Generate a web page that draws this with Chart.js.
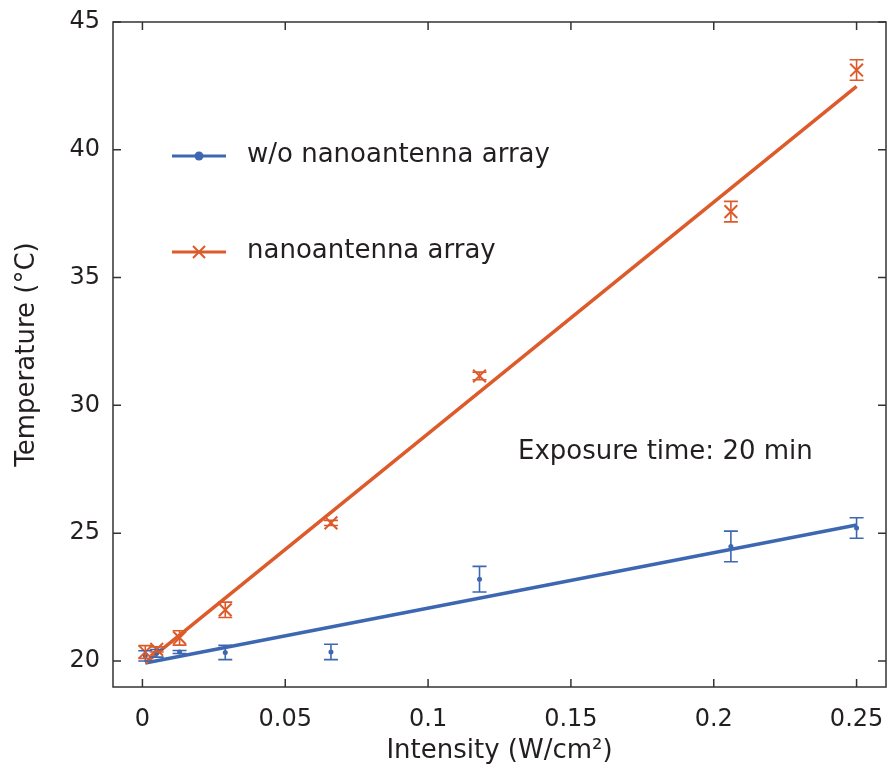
<!DOCTYPE html>
<html>
<head>
<meta charset="utf-8">
<title>Temperature vs intensity</title>
<script src="https://cdn.jsdelivr.net/npm/chart.js@4.4.1/dist/chart.umd.min.js"></script>
<style>
  html, body { margin: 0; padding: 0; background: #ffffff; }
  #chart { display: block; }
</style>
</head>
<body>
<canvas id="chart" width="888" height="782"></canvas>
<script>
// measured points (x = intensity in W/cm2)
const intensity = [0.001, 0.005, 0.013, 0.029, 0.066, 0.118, 0.206, 0.25];
const tempPlain = [20.2, 20.3, 20.35, 20.33, 20.35, 23.2, 24.48, 25.2];
const errPlain = [0.2, 0.15, 0.06, 0.28, 0.3, 0.5, 0.6, 0.4];
const tempAntenna = [20.35, 20.45, 20.9, 22.0, 25.4, 31.15, 37.58, 43.12];
const errAntenna = [0.25, 0.1, 0.28, 0.3, 0.1, 0.15, 0.4, 0.4];

// linear fits
const fitX = [0.001, 0.25];
const fitPlain = [19.92, 25.32];
const fitAntenna = [19.92, 42.48];

const xTicks = [0, 0.05, 0.1, 0.15, 0.2, 0.25];
const yTicks = [20, 25, 30, 35, 40, 45];

const BLUE = "#3d68b1";
const ORANGE = "#dd5a2a";
const TEXT = "#231f20";
const AXIS = "#333333";
const FONT = "'DejaVu Sans', sans-serif";

function toPoints(xs, ys) {
  return xs.map((x, i) => ({ x, y: ys[i] }));
}

function drawErrorBars(ctx, xScale, yScale, ys, errs, color) {
  ctx.strokeStyle = color;
  ctx.lineWidth = 1.6;
  ctx.beginPath();
  intensity.forEach((x, i) => {
    const px = xScale.getPixelForValue(x);
    const top = yScale.getPixelForValue(ys[i] + errs[i]);
    const bottom = yScale.getPixelForValue(ys[i] - errs[i]);
    ctx.moveTo(px, top);
    ctx.lineTo(px, bottom);
    ctx.moveTo(px - 7, top);
    ctx.lineTo(px + 7, top);
    ctx.moveTo(px - 7, bottom);
    ctx.lineTo(px + 7, bottom);
  });
  ctx.stroke();
}

const errorBarPlugin = {
  id: "errorBars",
  afterDatasetsDraw(chart) {
    const { ctx, scales: { x, y } } = chart;
    ctx.save();
    drawErrorBars(ctx, x, y, tempPlain, errPlain, BLUE);
    drawErrorBars(ctx, x, y, tempAntenna, errAntenna, ORANGE);
    ctx.restore();
  }
};

const framePlugin = {
  id: "frame",
  afterDraw(chart) {
    const { ctx, chartArea: a, scales: { x, y } } = chart;
    ctx.save();
    ctx.strokeStyle = AXIS;
    ctx.lineWidth = 1.5;
    ctx.strokeRect(a.left, a.top, a.right - a.left, a.bottom - a.top);

    ctx.beginPath();
    xTicks.forEach(v => {
      const px = x.getPixelForValue(v);
      ctx.moveTo(px, a.bottom);
      ctx.lineTo(px, a.bottom - 8);
      ctx.moveTo(px, a.top);
      ctx.lineTo(px, a.top + 8);
    });
    yTicks.forEach(v => {
      const py = y.getPixelForValue(v);
      ctx.moveTo(a.left, py);
      ctx.lineTo(a.left + 8, py);
      ctx.moveTo(a.right, py);
      ctx.lineTo(a.right - 8, py);
    });
    ctx.stroke();

    // legend
    ctx.lineWidth = 3;
    ctx.strokeStyle = BLUE;
    ctx.beginPath();
    ctx.moveTo(172, 156);
    ctx.lineTo(226, 156);
    ctx.stroke();
    ctx.fillStyle = BLUE;
    ctx.beginPath();
    ctx.arc(199, 156, 4.5, 0, Math.PI * 2);
    ctx.fill();

    ctx.strokeStyle = ORANGE;
    ctx.beginPath();
    ctx.moveTo(172, 252);
    ctx.lineTo(226, 252);
    ctx.stroke();
    ctx.lineWidth = 2;
    ctx.beginPath();
    ctx.moveTo(193, 246);
    ctx.lineTo(205, 258);
    ctx.moveTo(205, 246);
    ctx.lineTo(193, 258);
    ctx.stroke();

    ctx.fillStyle = TEXT;
    ctx.font = `26px ${FONT}`;
    ctx.textBaseline = "middle";
    ctx.textAlign = "left";
    ctx.fillText("w/o nanoantenna array", 247, 155);
    ctx.fillText("nanoantenna array", 247, 251);
    ctx.fillText("Exposure time: 20 min", 518, 452);
    ctx.restore();
  }
};

function initChart() {
  const canvas = document.querySelector("#chart");

  new Chart(canvas, {
    type: "scatter",
    data: {
      datasets: [
        {
          label: "nanoantenna array",
          data: toPoints(intensity, tempAntenna),
          pointStyle: "crossRot",
          pointRadius: 9,
          borderColor: ORANGE,
          backgroundColor: ORANGE,
          borderWidth: 2,
          showLine: false
        },
        {
          label: "w/o nanoantenna array",
          data: toPoints(intensity, tempPlain),
          pointStyle: "circle",
          pointRadius: 2.5,
          borderColor: BLUE,
          backgroundColor: BLUE,
          borderWidth: 0,
          showLine: false
        },
        {
          label: "fit antenna",
          data: toPoints(fitX, fitAntenna),
          showLine: true,
          pointRadius: 0,
          borderColor: ORANGE,
          borderWidth: 3.5
        },
        {
          label: "fit plain",
          data: toPoints(fitX, fitPlain),
          showLine: true,
          pointRadius: 0,
          borderColor: BLUE,
          borderWidth: 3.5
        }
      ]
    },
    options: {
      responsive: false,
      animation: false,
      layout: {
        autoPadding: false,
        padding: { top: 22, right: 2, left: 0, bottom: 0 }
      },
      plugins: {
        legend: { display: false },
        tooltip: { enabled: false }
      },
      scales: {
        x: {
          type: "linear",
          min: -0.0103,
          max: 0.2603,
          afterBuildTicks: scale => {
            scale.ticks = xTicks.map(value => ({ value }));
          },
          afterFit: scale => {
            scale.height = 95;
            scale.paddingLeft = 0;
            scale.paddingRight = 0;
          },
          grid: { display: false, drawTicks: false },
          border: { display: false },
          ticks: {
            color: TEXT,
            padding: 18,
            maxRotation: 0,
            font: { family: FONT, size: 24 },
            callback: value => String(Number(value.toFixed(2)))
          },
          title: {
            display: true,
            text: "Intensity (W/cm²)",
            color: TEXT,
            font: { family: FONT, size: 26 },
            padding: { top: 0, bottom: 15 }
          }
        },
        y: {
          type: "linear",
          min: 18.98,
          max: 45,
          afterBuildTicks: scale => {
            scale.ticks = yTicks.map(value => ({ value }));
          },
          afterFit: scale => {
            scale.width = 113;
            scale.paddingTop = 0;
            scale.paddingBottom = 0;
          },
          grid: { display: false, drawTicks: false },
          border: { display: false },
          ticks: {
            color: TEXT,
            padding: 13,
            font: { family: FONT, size: 24 }
          },
          title: {
            display: true,
            text: "Temperature (°C)",
            color: TEXT,
            font: { family: FONT, size: 26 },
            padding: { top: 12, bottom: 0 }
          }
        }
      }
    },
    plugins: [errorBarPlugin, framePlugin]
  });
}

document.addEventListener("DOMContentLoaded", initChart);
</script>
</body>
</html>
